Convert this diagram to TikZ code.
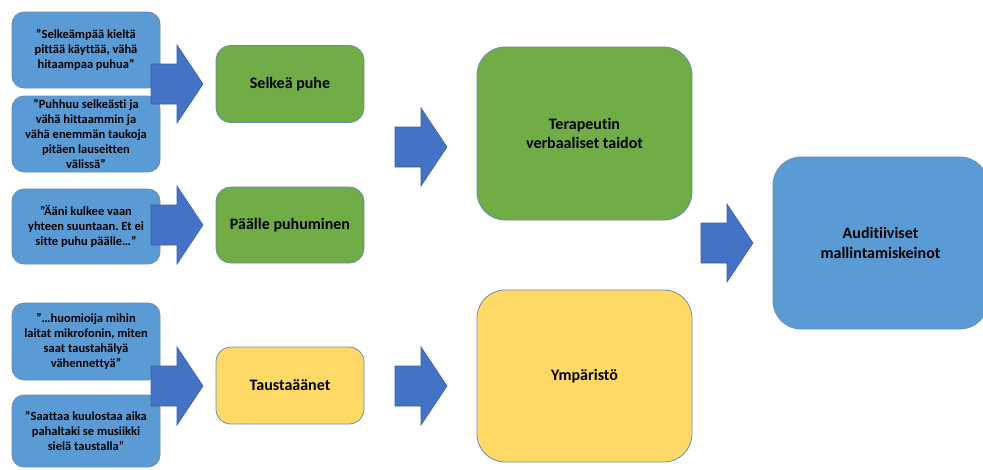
\documentclass[tikz,border=0pt]{standalone}
\usepackage{fontspec}
\setmainfont{Carlito}[Ligatures=NoCommon]
\frenchspacing
\definecolor{quoteblue}{HTML}{5B9BD5}
\definecolor{edgeblue}{HTML}{6A8CAF}
\definecolor{arrowblue}{HTML}{4472C4}
\definecolor{arrowedge}{HTML}{3A62A8}
\definecolor{speechgreen}{HTML}{70AD47}
\definecolor{noiseyellow}{HTML}{FFD966}

\begin{document}
\begin{tikzpicture}[
  x=1pt,y=-1pt,
  box/.style={draw=edgeblue,line width=.8pt,align=center,inner sep=2pt,text=black},
  quote/.style={box,fill=quoteblue,rounded corners=12pt,minimum width=148pt,minimum height=76pt,
    font=\bfseries\fontsize{12.5}{15}\selectfont},
  theme/.style={box,rounded corners=15pt,minimum width=148pt,minimum height=77pt,
    font=\bfseries\fontsize{16}{19.5}\selectfont},
  bigbox/.style={box,rounded corners=28pt,minimum width=215pt,minimum height=173pt,
    font=\bfseries\fontsize{16}{19.5}\selectfont},
  pics/blockarrow/.style={code={
    \filldraw[fill=arrowblue,draw=arrowedge,line width=.6pt]
      (-52,-20) -- (-26,-20) -- (-26,-39) -- (0,0) -- (-26,39) -- (-26,20) -- (-52,20) -- cycle;}}
]
\useasboundingbox (0,0) rectangle (983,469);

% quotes
\node[quote] (q1) at (86,50) {”Selkeämpää kieltä\\pittää käyttää, vähä\\hitaampaa puhua”};
\node[quote] (q2) at (86,134) {”Puhhuu selkeästi ja\\vähä hittaammin ja\\vähä enemmän taukoja\\pitäen lauseitten\\välissä”};
\node[quote,minimum height=75pt] (q3) at (86,226.5) {”Ääni kulkee vaan\\yhteen suuntaan. Et ei\\sitte puhu päälle…”};
\node[quote,minimum height=77pt] (q4) at (86,341.5) {”…huomioija mihin\\laitat mikrofonin, miten\\saat taustahälyä\\vähennettyä”};
\node[quote,minimum height=72pt] (q5) at (86,431) {”Saattaa kuulostaa aika\\pahaltaki se musiikki\\sielä taustalla”};

% themes
\node[theme,fill=speechgreen] (selkea) at (290,84) {Selkeä puhe};
\node[theme,fill=speechgreen,minimum height=76pt] (paalle) at (290,225) {Päälle puhuminen};
\node[theme,fill=noiseyellow] (tausta) at (290,385.5) {Taustaäänet};

% categories
\node[bigbox,fill=speechgreen] (verbaali) at (584.5,133.5) {Terapeutin\\verbaaliset taidot};
\node[bigbox,fill=noiseyellow,minimum height=172pt] (ymparisto) at (584.5,376) {Ympäristö};
\node[bigbox,fill=quoteblue,minimum height=172pt] (auditiivi) at (880.5,243) {Auditiiviset\\mallintamiskeinot};

% arrows
\pic at (203,84) {blockarrow};
\pic at (203,225) {blockarrow};
\pic at (203,386) {blockarrow};
\pic at (447,147) {blockarrow};
\pic at (447,386) {blockarrow};
\pic at (753,243) {blockarrow};
\end{tikzpicture}
\end{document}
